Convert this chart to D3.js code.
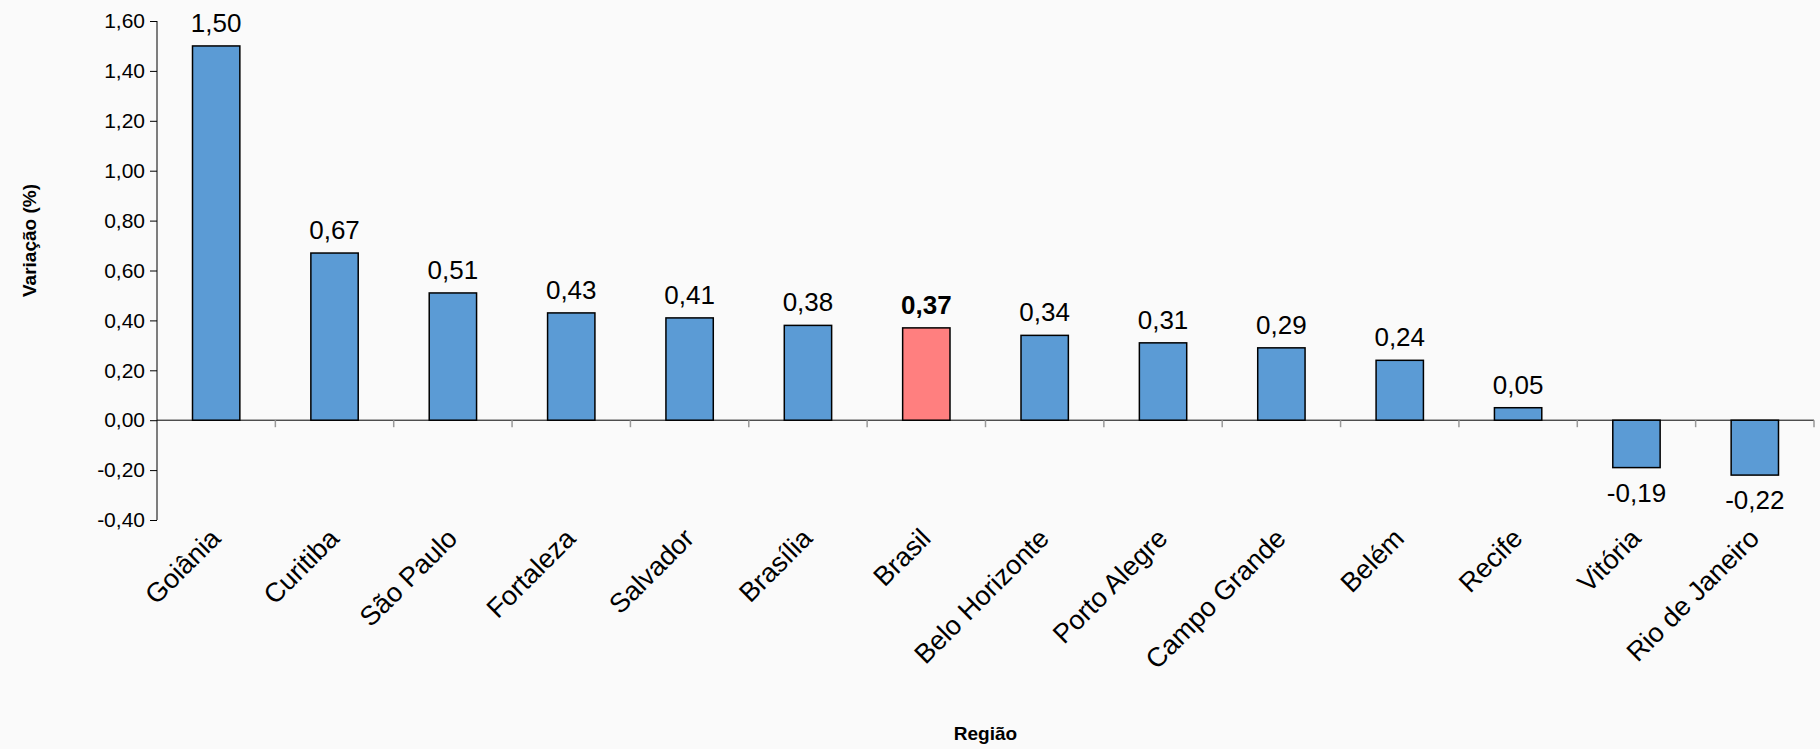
<!DOCTYPE html><html><head><meta charset="utf-8"><script src="https://cdn.jsdelivr.net/npm/d3@7"></script>
<style>body{margin:0;background:#fafafa}svg{display:block;font-family:Arial,"Liberation Sans",sans-serif}</style></head><body><svg width="1820" height="749"></svg>
<script>
const categories=["Goiânia","Curitiba","São Paulo","Fortaleza","Salvador","Brasília","Brasil","Belo Horizonte","Porto Alegre","Campo Grande","Belém","Recife","Vitória","Rio de Janeiro"];
const values=[1.50,0.67,0.51,0.43,0.41,0.38,0.37,0.34,0.31,0.29,0.24,0.05,-0.19,-0.22];
const yTicks=[-0.4,-0.2,0,0.2,0.4,0.6,0.8,1.0,1.2,1.4,1.6];
const highlight="Brasil";
const svg=d3.select("svg");
const L=157,R=1814,T=21,B=520;
const x=d3.scaleBand().domain(categories).range([L,R]).paddingInner(0.6).paddingOuter(0.3);
const y=d3.scaleLinear().domain([-0.4,1.6]).range([B,T]);
const fmt=v=>d3.format(".2f")(v).replace(".",",").replace("−","-");
const ya=svg.append("g").attr("transform",`translate(${L},0)`).call(d3.axisLeft(y).tickValues(yTicks).tickSize(7).tickFormat(fmt));
ya.select(".domain").attr("stroke","#000").attr("d",`M-0,${B}V${T}`);
ya.selectAll("text").attr("font-size",21).attr("fill","#000").attr("dx",-2);
ya.selectAll("line").attr("stroke","#000");
svg.append("line").attr("x1",L).attr("x2",R).attr("y1",y(0)).attr("y2",y(0)).attr("stroke","#000");
const seps=d3.range(1,categories.length+1).map(i=>L+(R-L)*i/categories.length);
svg.selectAll(".sep").data(seps).join("line").attr("x1",d=>d).attr("x2",d=>d).attr("y1",y(0)).attr("y2",y(0)+7).attr("stroke","#999").attr("stroke-width",1.5);
svg.selectAll(".bar").data(categories).join("rect")
 .attr("x",d=>x(d)).attr("width",x.bandwidth())
 .attr("y",(d,i)=>y(Math.max(0,values[i]))).attr("height",(d,i)=>Math.abs(y(values[i])-y(0)))
 .attr("fill",d=>d===highlight?"#ff7f7f":"#5b9bd5").attr("stroke","#000").attr("stroke-width",1.5);
svg.selectAll(".val").data(categories).join("text")
 .attr("x",d=>x(d)+x.bandwidth()/2).attr("y",(d,i)=>values[i]>=0?y(values[i])-14:y(values[i])+34)
 .attr("text-anchor","middle").attr("font-size",26).attr("font-weight",d=>d===highlight?"bold":"normal").text((d,i)=>fmt(values[i]));
svg.selectAll(".cat").data(categories).join("text")
 .attr("transform",d=>`translate(${x(d)+x.bandwidth()/2+6},${540}) rotate(-45)`)
 .attr("text-anchor","end").attr("font-size",27).text(d=>d);
svg.append("text").attr("x",(L+R)/2).attr("y",740).attr("text-anchor","middle").attr("font-weight","bold").attr("font-size",19).text("Região");
svg.append("text").attr("transform",`translate(36,${(T+B)/2-30}) rotate(-90)`).attr("text-anchor","middle").attr("font-weight","bold").attr("font-size",19).text("Variação (%)");
</script></body></html>
